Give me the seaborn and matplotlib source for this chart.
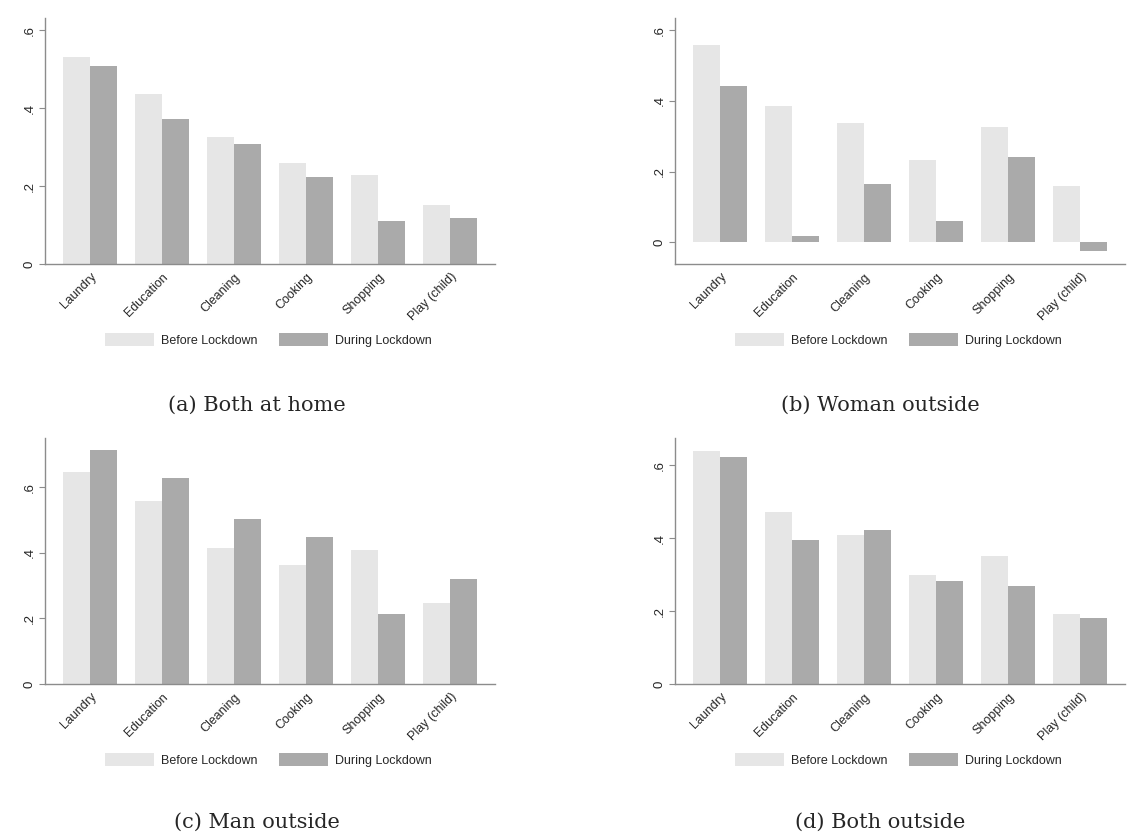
import pandas as pd
import seaborn as sns
import matplotlib.pyplot as plt
from matplotlib.patches import Patch
from matplotlib.ticker import FuncFormatter

tasks = ['Laundry', 'Education', 'Cleaning', 'Cooking', 'Shopping', 'Play (child)']
periods = ['Before Lockdown', 'During Lockdown']

# values
both_home_before = [0.531, 0.437, 0.325, 0.258, 0.228, 0.151]
both_home_during = [0.509, 0.372, 0.308, 0.223, 0.110, 0.119]
woman_out_before = [0.558, 0.385, 0.337, 0.232, 0.326, 0.160]
woman_out_during = [0.442, 0.017, 0.166, 0.060, 0.242, -0.025]
man_out_before = [0.648, 0.559, 0.414, 0.364, 0.410, 0.248]
man_out_during = [0.713, 0.629, 0.505, 0.448, 0.214, 0.320]
both_out_before = [0.639, 0.472, 0.409, 0.299, 0.351, 0.193]
both_out_during = [0.623, 0.395, 0.422, 0.281, 0.269, 0.180]

captions = ['(a) Both at home', '(b) Woman outside', '(c) Man outside', '(d) Both outside']
panels = [
    (both_home_before, both_home_during, (0, 0.631), [0, 0.2, 0.4, 0.6]),
    (woman_out_before, woman_out_during, (-0.061, 0.634), [0, 0.2, 0.4, 0.6]),
    (man_out_before, man_out_during, (0, 0.751), [0, 0.2, 0.4, 0.6]),
    (both_out_before, both_out_during, (0, 0.674), [0, 0.2, 0.4, 0.6]),
]

colors = ['#e6e6e6', '#aaaaaa']
spine_col = '#8c8c8c'

sns.set_style('white')
plt.rcParams['font.family'] = ['Liberation Sans', 'DejaVu Sans']

W, H = 1131, 838
fig = plt.figure(figsize=(W / 100, H / 100), dpi=100)

# axes boxes in pixels: left, top, right, bottom
boxes = [(45, 18, 495, 264), (675, 18, 1125, 264),
         (45, 438, 495, 684), (675, 438, 1125, 684)]
cap_pos = [(257, 405), (880, 405), (257, 822), (880, 822)]


def fmt(v, pos):
    if abs(v) < 1e-9:
        return '0'
    return ('%.1f' % v).lstrip('0')


for i, (before, during, ylim, yt) in enumerate(panels):
    l, t, r, b = boxes[i]
    ax = fig.add_axes([l / W, 1 - b / H, (r - l) / W, (b - t) / H])
    df = pd.DataFrame({
        'task': tasks * 2,
        'period': [periods[0]] * 6 + [periods[1]] * 6,
        'value': before + during,
    })
    sns.barplot(data=df, x='task', y='value', hue='period', order=tasks,
                hue_order=periods, palette=colors, saturation=1, width=0.75,
                errorbar=None, ax=ax, legend=False)
    for p in ax.patches:
        p.set_edgecolor('none')
    ax.set_xlim(-0.63, 5.62)
    ax.set_ylim(*ylim)
    ax.set_yticks(yt)
    ax.yaxis.set_major_formatter(FuncFormatter(fmt))
    ax.set_xlabel('')
    ax.set_ylabel('')
    ax.set_xticks(range(len(tasks)))
    ax.set_xticklabels(tasks, rotation=45, ha='right', rotation_mode='anchor',
                       fontsize=9)
    ax.tick_params(axis='x', length=0, pad=5)
    ax.tick_params(axis='y', length=4, width=0.8, color=spine_col,
                   labelsize=9.5, pad=3, left=True)
    for lab in ax.get_yticklabels():
        lab.set_rotation(90)
        lab.set_va('center')
    sns.despine(ax=ax)
    for s in ['left', 'bottom']:
        ax.spines[s].set_color(spine_col)
        ax.spines[s].set_linewidth(1.0)

    handles = [Patch(facecolor=c, edgecolor='none', label=lb)
               for c, lb in zip(colors, periods)]
    ax.legend(handles=handles, loc='center', ncol=2, frameon=False,
              bbox_to_anchor=(0.497, -0.31), fontsize=9, handlelength=3.9,
              handleheight=1.2, columnspacing=1.7, handletextpad=0.6)

    cx, cy = cap_pos[i]
    fig.text(cx / W, 1 - cy / H, captions[i], ha='center', va='center',
             fontsize=15, family='DejaVu Serif')

fig.savefig('out.png', dpi=100)
